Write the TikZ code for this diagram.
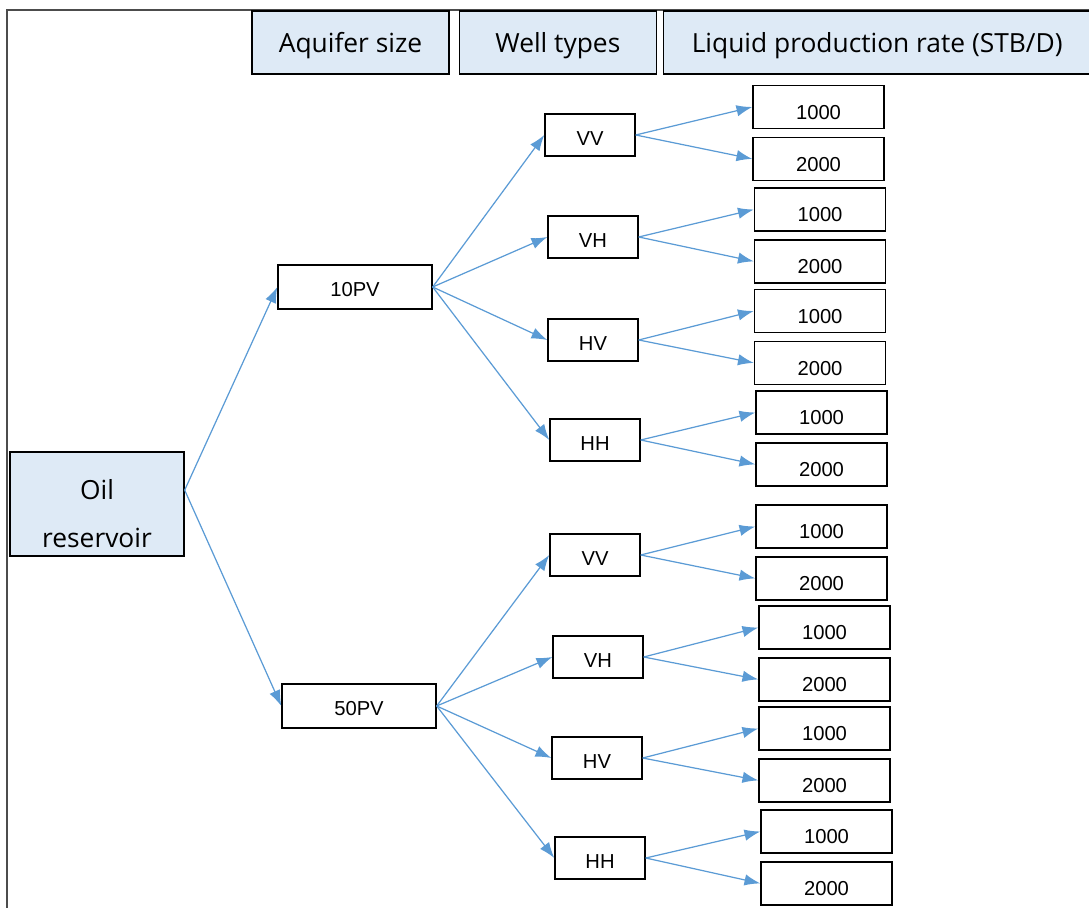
\documentclass[tikz,border=0pt]{standalone}
\usepackage{fontspec}
\setmainfont{Liberation Sans}
\newfontfamily\headfont{Open Sans}
\usepackage{tikz}
\usetikzlibrary{positioning, arrows.meta}
\definecolor{headblue}{RGB}{222,234,246}
\definecolor{linkblue}{RGB}{91,155,213}
\tikzset{header/.style={rectangle, minimum width=3.94cm, minimum height=1.26cm, text centered, text height=13pt, text depth=2pt, draw=black, line width=0.8pt, fill=headblue, font=\headfont\fontsize{15}{17}\selectfont},
         rootbox/.style={rectangle, minimum width=3.48cm, minimum height=2.08cm, align=center, inner ysep=2pt, text height=49pt, text depth=0pt, draw=black, line width=0.8pt, fill=headblue, font=\headfont\fontsize{15}{27}\selectfont},
         sizebox/.style={rectangle, minimum width=3.08cm, minimum height=0.88cm, text centered, text height=11pt, text depth=0pt, draw=black, line width=0.8pt, font=\fontsize{11.5}{13}\selectfont},
         wellbox/.style={rectangle, minimum width=1.8cm, minimum height=0.84cm, text centered, text height=12pt, text depth=0pt, draw=black, line width=0.8pt, font=\fontsize{11.5}{13}\selectfont},
         ratebox/.style={rectangle, minimum width=2.62cm, minimum height=0.86cm, text centered, text height=14pt, text depth=0pt, draw=black, line width=0.8pt, font=\fontsize{11.5}{13}\selectfont},
         link/.style={draw=linkblue, line width=0.7pt, -{Latex[length=9pt,width=6.5pt]}},
         frame/.style={draw=black!70, line width=1.1pt}}

\begin{document}
\begin{tikzpicture}[x=0.02cm, y=-0.02cm]
        \useasboundingbox (0,0) rectangle (1089,908);
        \draw [frame] (7,908) -- (7,10) -- (1089,10);

        \node (aquifer)[header] at (350.5,42.5){Aquifer size};
        \node (wells)[header, right=0.18cm of aquifer]{Well types};
        \node (rate)[header, minimum width=8.54cm, right=0.12cm of wells]{Liquid production rate (STB/D)};

        \node (oil)[rootbox] at (97,504){Oil\\reservoir};

        \node (pv10)[sizebox] at (355,287){10PV};
        \draw [link] (oil.9) -- (pv10.west);
        \node (pv50)[sizebox] at (359,706){50PV};
        \draw [link] (oil.9) -- (pv50.west);

        \node (vv1)[wellbox] at (590,135){VV};
        \draw [link] (pv10.east) -- (vv1.west);
        \node (vh1)[wellbox] at (593,237){VH};
        \draw [link] (pv10.east) -- (vh1.west);
        \node (hv1)[wellbox] at (593,340){HV};
        \draw [link] (pv10.east) -- (hv1.west);
        \node (hh1)[wellbox] at (595,440){HH};
        \draw [link] (pv10.east) -- (hh1.west);

        \node (vv2)[wellbox] at (595,555){VV};
        \draw [link] (pv50.east) -- (vv2.west);
        \node (vh2)[wellbox] at (598,657){VH};
        \draw [link] (pv50.east) -- (vh2.west);
        \node (hv2)[wellbox] at (597,758){HV};
        \draw [link] (pv50.east) -- (hv2.west);
        \node (hh2)[wellbox] at (600,858){HH};
        \draw [link] (pv50.east) -- (hh2.west);

        \node (vv1a)[ratebox] at (818.5,107){1000};
        \draw [link] (vv1.east) -- (vv1a.west);
        \node (vv1b)[ratebox, below=0.15cm of vv1a]{2000};
        \draw [link] (vv1.east) -- (vv1b.west);
        \node (vh1a)[ratebox] at (820,209.5){1000};
        \draw [link] (vh1.east) -- (vh1a.west);
        \node (vh1b)[ratebox, below=0.15cm of vh1a]{2000};
        \draw [link] (vh1.east) -- (vh1b.west);
        \node (hv1a)[ratebox] at (820,311){1000};
        \draw [link] (hv1.east) -- (hv1a.west);
        \node (hv1b)[ratebox, below=0.15cm of hv1a]{2000};
        \draw [link] (hv1.east) -- (hv1b.west);
        \node (hh1a)[ratebox] at (821.5,412.5){1000};
        \draw [link] (hh1.east) -- (hh1a.west);
        \node (hh1b)[ratebox, below=0.15cm of hh1a]{2000};
        \draw [link] (hh1.east) -- (hh1b.west);

        \node (vv2a)[ratebox] at (821.5,526.5){1000};
        \draw [link] (vv2.east) -- (vv2a.west);
        \node (vv2b)[ratebox, below=0.15cm of vv2a]{2000};
        \draw [link] (vv2.east) -- (vv2b.west);
        \node (vh2a)[ratebox] at (824.5,627.5){1000};
        \draw [link] (vh2.east) -- (vh2a.west);
        \node (vh2b)[ratebox, below=0.15cm of vh2a]{2000};
        \draw [link] (vh2.east) -- (vh2b.west);
        \node (hv2a)[ratebox] at (824.5,728.5){1000};
        \draw [link] (hv2.east) -- (hv2a.west);
        \node (hv2b)[ratebox, below=0.15cm of hv2a]{2000};
        \draw [link] (hv2.east) -- (hv2b.west);
        \node (hh2a)[ratebox] at (826.5,831.5){1000};
        \draw [link] (hh2.east) -- (hh2a.west);
        \node (hh2b)[ratebox, below=0.15cm of hh2a]{2000};
        \draw [link] (hh2.east) -- (hh2b.west);
    \end{tikzpicture}
\end{document}
